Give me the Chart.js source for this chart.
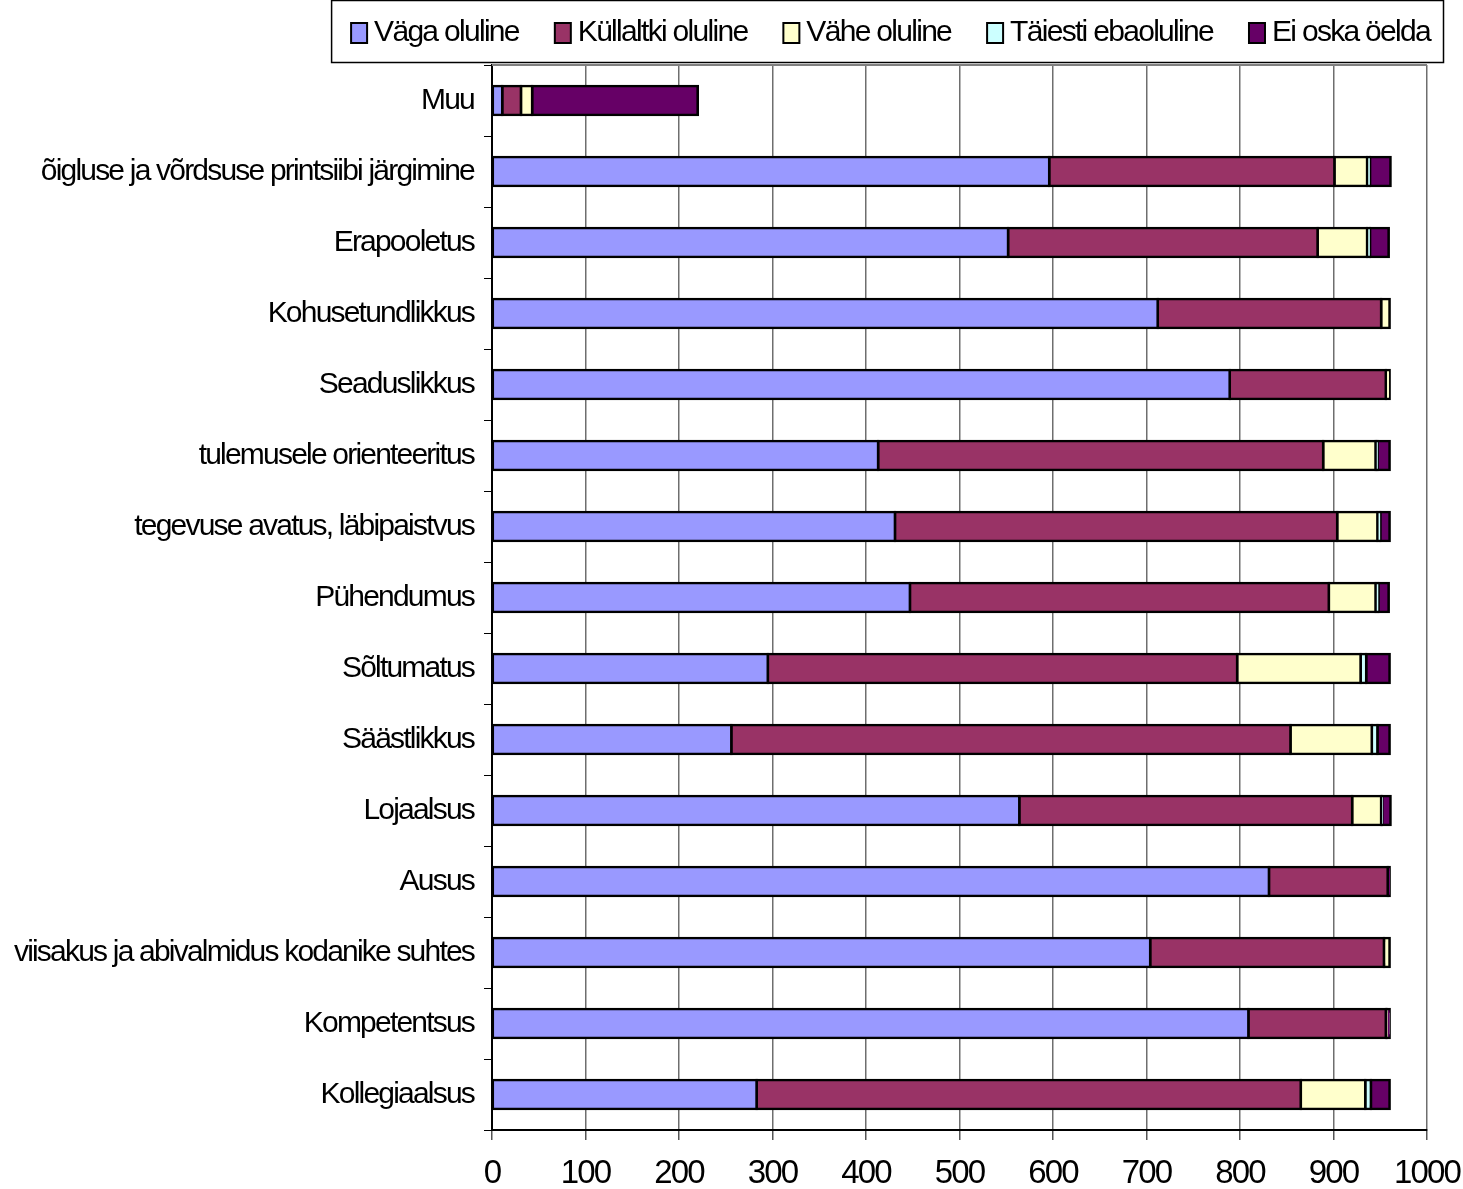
<!DOCTYPE html>
<html>
<head>
<meta charset="utf-8">
<script src="https://cdn.jsdelivr.net/npm/chart.js@4.4.0/dist/chart.umd.min.js"></script>
<style>
    body { margin: 0; background: #ffffff; }
    #kast { width: 1463px; height: 1189px; }
</style>
</head>
<body>
<div id="kast"><canvas id="grafik"></canvas></div>
<script>
let kategooriad = [
    'Muu',
    'õigluse ja võrdsuse printsiibi järgimine',
    'Erapooletus',
    'Kohusetundlikkus',
    'Seaduslikkus',
    'tulemusele orienteeritus',
    'tegevuse avatus, läbipaistvus',
    'Pühendumus',
    'Sõltumatus',
    'Säästlikkus',
    'Lojaalsus',
    'Ausus',
    'viisakus ja abivalmidus kodanike suhtes',
    'Kompetentsus',
    'Kollegiaalsus'
];

let vagaOluline      = [11, 596, 552, 712, 789, 413, 431, 447, 295, 256, 564, 831, 704, 809, 283];
let kullaltkiOluline = [20, 305, 331, 239, 167, 476, 473, 448, 502, 598, 356, 127, 250, 147, 582];
let vaheOluline      = [12, 35, 53, 9, 4, 56, 43, 50, 132, 87, 31, 0, 6, 1, 69];
let taiestiEbaoluline = [0, 3, 3, 0, 0, 2, 3, 3, 6, 6, 1, 0, 0, 0, 6];
let eiOskaOelda      = [177, 22, 20, 0, 0, 13, 10, 11, 25, 13, 9, 2, 0, 3, 20];

let xTeljeSammud = [0, 100, 200, 300, 400, 500, 600, 700, 800, 900, 1000];

let kiri = 'Liberation Sans, Arial, sans-serif';
let kitsasKiri = 'Liberation Sans Narrow, Arial Narrow, Liberation Sans, sans-serif';

function seeria(nimi, andmed, varv) {
    return {
        label: nimi,
        data: andmed,
        backgroundColor: varv,
        borderColor: '#000000',
        borderWidth: 2.6,
        borderSkipped: false,
        inflateAmount: 1.3,
        categoryPercentage: 1,
        barPercentage: 0.41
    };
}

// tihedam kiri nagu originaalis
let kirjaVahe = {
    id: 'kirjaVahe',
    beforeUpdate: function(chart) {
        chart.ctx.letterSpacing = '-1.8px';
    },
    beforeDraw: function(chart) {
        chart.ctx.letterSpacing = '-1.8px';
    }
};

// legend raamis + joon graafiku ülaserval
let legendJaRaam = {
    id: 'legendJaRaam',
    afterDraw: function(chart) {
        let ctx = chart.ctx;
        let ala = chart.chartArea;
        let seeriad = chart.data.datasets;
        ctx.save();

        ctx.strokeStyle = '#808080';
        ctx.lineWidth = 2;
        ctx.beginPath();
        ctx.moveTo(ala.left, ala.top);
        ctx.lineTo(ala.right, ala.top);
        ctx.stroke();

        ctx.letterSpacing = '-1.7px';
        ctx.font = '30px ' + kiri;
        ctx.textBaseline = 'middle';
        ctx.textAlign = 'left';

        let x = 1430;
        let kohad = [];
        for (let i = seeriad.length - 1; i >= 0; i--) {
            let laius = ctx.measureText(seeriad[i].label).width;
            let tekstX = x - laius;
            let kastX = tekstX - 23;
            kohad.unshift({ kastX: kastX, tekstX: tekstX });
            x = kastX - 36;
        }

        ctx.strokeStyle = '#000000';
        ctx.lineWidth = 1.5;
        ctx.strokeRect(kohad[0].kastX - 20 + 0.5, 0.5, 1443 - (kohad[0].kastX - 20), 62);

        for (let i = 0; i < seeriad.length; i++) {
            ctx.fillStyle = seeriad[i].backgroundColor;
            ctx.fillRect(kohad[i].kastX, 23, 16, 20);
            ctx.lineWidth = 2;
            ctx.strokeRect(kohad[i].kastX, 23, 16, 20);
            ctx.fillStyle = '#000000';
            ctx.fillText(seeriad[i].label, kohad[i].tekstX, 33);
        }
        ctx.restore();
    }
};

new Chart(document.getElementById('grafik'), {
    type: 'bar',
    data: {
        labels: kategooriad,
        datasets: [
            seeria('Väga oluline', vagaOluline, '#9999ff'),
            seeria('Küllaltki oluline', kullaltkiOluline, '#993366'),
            seeria('Vähe oluline', vaheOluline, '#ffffcc'),
            seeria('Täiesti ebaoluline', taiestiEbaoluline, '#ccffff'),
            seeria('Ei oska öelda', eiOskaOelda, '#660066')
        ]
    },
    options: {
        indexAxis: 'y',
        responsive: true,
        maintainAspectRatio: false,
        animation: false,
        layout: {
            padding: { top: 65, right: 36, left: 0, bottom: 0 }
        },
        plugins: {
            tooltip: { enabled: false },
            legend: { display: false }
        },
        scales: {
            x: {
                stacked: true,
                min: 0,
                max: 1000,
                afterBuildTicks: function(skaala) {
                    skaala.ticks = xTeljeSammud.map(function(v) { return { value: v }; });
                },
                afterFit: function(skaala) {
                    skaala.height = 59;
                    skaala.paddingLeft = 0;
                    skaala.paddingRight = 0;
                },
                border: { color: '#000000', width: 2 },
                grid: {
                    color: '#6e6e6e',
                    lineWidth: 1.5,
                    tickLength: 10,
                    tickColor: '#555555'
                },
                ticks: {
                    color: '#000000',
                    font: { family: kitsasKiri, size: 33 },
                    padding: 14,
                    maxRotation: 0,
                    callback: function(v) { return String(v); }
                }
            },
            y: {
                stacked: true,
                afterFit: function(skaala) {
                    skaala.width = 492;
                },
                border: { color: '#000000', width: 2 },
                grid: {
                    drawOnChartArea: false,
                    tickLength: 8,
                    color: '#000000'
                },
                ticks: {
                    color: '#000000',
                    font: { family: kiri, size: 30 },
                    padding: 10
                }
            }
        }
    },
    plugins: [kirjaVahe, legendJaRaam]
});
</script>
</body>
</html>
